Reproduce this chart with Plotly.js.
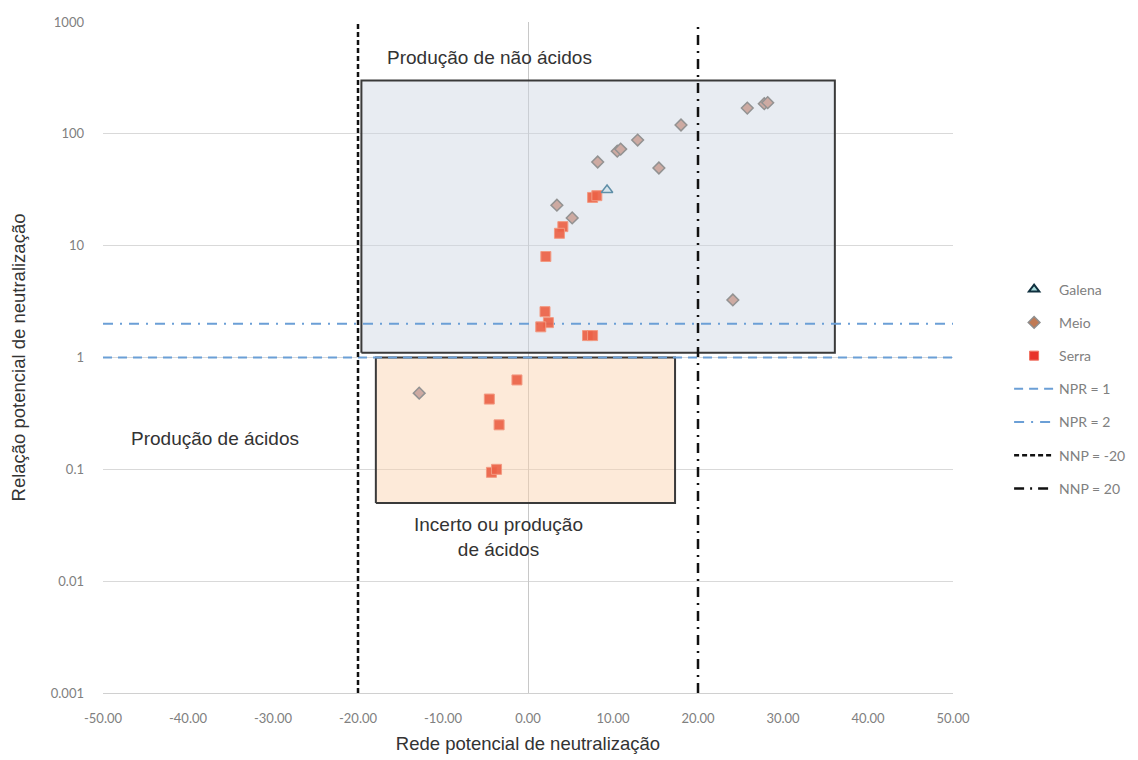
<!DOCTYPE html>
<html>
<head>
<meta charset="utf-8">
<script src="https://cdn.plot.ly/plotly-3.0.1.min.js"></script>
<style>html,body{margin:0;padding:0;background:#fff;}#chart{width:1138px;height:760px;}</style>
</head>
<body>
<div id="chart"></div>
<script>
// ---- data ----
const galenaX = [9.3];
const galenaY = [31.5];
const meioX = [3.4, 5.2, 8.2, 10.5, 10.9, 12.9, 15.4, 18.0, 25.8, 27.8, 28.2, 24.1, -12.8];
const meioY = [23, 17.7, 56, 70, 73, 88, 49.5, 120, 170, 186, 190, 3.27, 0.48];
const serraX = [7.6, 8.1, 4.1, 3.7, 2.1, 2.0, 2.4, 1.5, 7.0, 7.6, -1.3, -4.55, -3.4, -4.3, -3.7];
const serraY = [27, 28, 14.8, 12.9, 8.0, 2.57, 2.05, 1.88, 1.57, 1.57, 0.63, 0.425, 0.25, 0.094, 0.1];
const nprLevels = [1, 2];
const nnpLevels = [-20, 20];
const upperBoxX = [-19.6, 36.1];
const upperBoxY = [1.1, 300];
const lowerBoxX = [-17.9, 17.3];
const lowerBoxY = [0.05, 1.0];
const xRange = [-50, 50];
const yRange = [0.001, 1000];
const xTicks = [-50, -40, -30, -20, -10, 0, 10, 20, 30, 40, 50];
const xTickText = ['-50.00', '-40.00', '-30.00', '-20.00', '-10.00', '0.00', '10.00', '20.00', '30.00', '40.00', '50.00'];
const yTickVals = [0.001, 0.01, 0.1, 1, 10, 100, 1000];
const yTickText = ['0.001', '0.01', '0.1', '1', '10', '100', '1000'];

function boxTrace(bx, by, fill) {
  return {
    x: [bx[0], bx[1], bx[1], bx[0], bx[0]],
    y: [by[0], by[0], by[1], by[1], by[0]],
    mode: 'lines', fill: 'toself', fillcolor: fill,
    line: {color: '#3a3a3a', width: 2},
    showlegend: false, hoverinfo: 'skip'
  };
}

const traces = [
  boxTrace(upperBoxX, upperBoxY, 'rgba(205,212,226,0.45)'),
  boxTrace(lowerBoxX, lowerBoxY, 'rgba(250,208,170,0.45)'),
  // reference lines
  {x: xRange, y: [nprLevels[0], nprLevels[0]], mode: 'lines', name: 'NPR = 1', legendgroup: 'g4',
   line: {color: '#6b9fd6', width: 2, dash: '9px,6px'}},
  {x: xRange, y: [nprLevels[1], nprLevels[1]], mode: 'lines', name: 'NPR = 2', legendgroup: 'g5',
   line: {color: '#6b9fd6', width: 2, dash: '10px,7px,2px,7px'}},
  {x: [nnpLevels[0], nnpLevels[0]], y: yRange, mode: 'lines', name: 'NNP = -20', legendgroup: 'g6',
   line: {color: '#111', width: 2.5, dash: '5px,3px'}},
  {x: [nnpLevels[1], nnpLevels[1]], y: yRange, mode: 'lines', name: 'NNP = 20', legendgroup: 'g7',
   line: {color: '#111', width: 2.5, dash: '10px,6px,2px,6px'}},
  // data
  {x: meioX, y: meioY, mode: 'markers', name: 'Meio', showlegend: false,
   marker: {symbol: 'diamond', size: 9, color: '#cdaaa2', line: {color: '#929292', width: 1.5}}},
  {x: serraX, y: serraY, mode: 'markers', name: 'Serra', showlegend: false,
   marker: {symbol: 'square', size: 10, color: 'rgba(236,98,70,0.92)', line: {color: '#f29a82', width: 1}}},
  {x: galenaX, y: galenaY, mode: 'markers', name: 'Galena', showlegend: false,
   marker: {symbol: 'triangle-up', size: 10, color: '#d6e4ec', line: {color: '#5f8fa8', width: 1.5}}},
  // legend entries
  {x: [null], y: [null], mode: 'markers', name: 'Galena', legendgroup: 'g1',
   marker: {symbol: 'triangle-up', size: 9, color: '#a8dcdc', line: {color: '#10303f', width: 2}}},
  {x: [null], y: [null], mode: 'markers', name: 'Meio', legendgroup: 'g2',
   marker: {symbol: 'diamond', size: 9, color: '#c07a55', line: {color: '#8e8e8e', width: 1.5}}},
  {x: [null], y: [null], mode: 'markers', name: 'Serra', legendgroup: 'g3',
   marker: {symbol: 'square', size: 9, color: '#e8322a', line: {color: '#f07060', width: 1}}}
];

const rank = {'Galena': 1, 'Meio': 2, 'Serra': 3, 'NPR = 1': 4, 'NPR = 2': 5, 'NNP = -20': 6, 'NNP = 20': 7};
traces.forEach(t => { if (t.name && rank[t.name] && t.showlegend !== false) t.legendrank = rank[t.name]; });

const tickFont = {family: 'Lato, sans-serif', size: 13, color: '#808080'};
const legendFont = {family: 'Lato, sans-serif', size: 14, color: '#808080'};
const textFont = {family: 'Liberation Sans, Arial, sans-serif', size: 19, color: '#333'};
const titleFont = {family: 'Liberation Sans, Arial, sans-serif', size: 18.5, color: '#333'};

const layout = {
  width: 1138, height: 760,
  margin: {l: 103, r: 185, t: 22, b: 67, autoexpand: false},
  paper_bgcolor: '#fff', plot_bgcolor: '#fff',
  showlegend: true,
  legend: {x: 1.066, xanchor: 'left', y: 0.625, yanchor: 'top', font: legendFont, itemwidth: 40,
           traceorder: 'grouped', tracegroupgap: 12, bgcolor: 'rgba(0,0,0,0)'},
  xaxis: {range: xRange, tickvals: xTicks, ticktext: xTickText, showgrid: false, automargin: false,
          zeroline: true, zerolinecolor: '#c8c8c8', zerolinewidth: 1,
          showline: true, linecolor: '#d0d0d0', ticks: '', tickfont: tickFont,
          ticklabelstandoff: 13,
          title: {text: 'Rede potencial de neutralização', font: titleFont, standoff: 12}},
  yaxis: {type: 'log', range: [Math.log10(yRange[0]), Math.log10(yRange[1])], automargin: false,
          tickvals: yTickVals, ticktext: yTickText, showgrid: true, gridcolor: '#d9d9d9',
          zeroline: false, showline: false, ticks: '', tickfont: tickFont, ticklabelstandoff: 18,
          title: {text: 'Relação potencial de neutralização', font: titleFont, standoff: 20}},
  annotations: [
    {x: -4.5, y: Math.log10(477), text: 'Produção de não ácidos', showarrow: false, font: textFont},
    {x: -36.8, y: Math.log10(0.19), text: 'Produção de ácidos', showarrow: false, font: textFont},
    {x: -3.5, y: Math.log10(0.025), text: 'Incerto ou produção<br>de ácidos', showarrow: false, font: textFont}
  ]
};

Plotly.newPlot('chart', traces, layout, {displayModeBar: false, staticPlot: true});
</script>
</body>
</html>
